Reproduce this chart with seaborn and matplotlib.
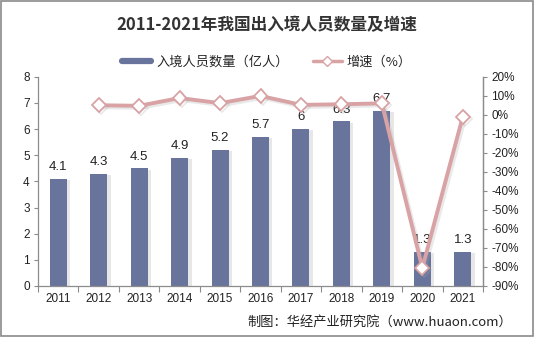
import numpy as np
import pandas as pd
import matplotlib
matplotlib.use("Agg")
import matplotlib.pyplot as plt
import matplotlib.patheffects as pe
from matplotlib.lines import Line2D
import seaborn as sns

years = ["2011", "2012", "2013", "2014", "2015", "2016", "2017", "2018", "2019", "2020", "2021"]
visitors = [4.1, 4.3, 4.5, 4.9, 5.2, 5.7, 6.0, 6.3, 6.7, 1.3, 1.3]
growth = [np.nan, 5.0, 4.7, 8.8, 6.1, 9.9, 5.2, 5.5, 6.0, -80.5, -1.0]
left_ticks = [0, 1, 2, 3, 4, 5, 6, 7, 8]
right_ticks = [20, 10, 0, -10, -20, -30, -40, -50, -60, -70, -80, -90]

sns.set_theme(style="white")
plt.rcParams['font.family'] = ['Liberation Sans', 'Noto Sans CJK SC', 'DejaVu Sans']

BAR = "#68749C"
LINE = "#D9A3A5"
SPINE = "#8C8C8C"

fig = plt.figure(figsize=(5.34, 3.37), dpi=100)
fig.patch.set_facecolor("white")
ax = fig.add_axes([38/534, 1-286/337, (483-38)/534, (286-76.7)/337])

df = pd.DataFrame({"year": years, "visitors": visitors, "growth": growth})
sns.barplot(data=df, x="year", y="visitors", color=BAR, width=0.42, ax=ax,
            saturation=1, edgecolor="none")
for p in ax.patches:
    p.set_path_effects([pe.SimplePatchShadow(offset=(2.5, -1), shadow_rgbFace="#b0b0b0", alpha=0.3),
                        pe.Normal()])
ax.bar_label(ax.containers[0], labels=[f"{v:g}" for v in visitors], padding=4,
             fontsize=9.5, color="#222222")

ax.set_ylim(0, 8)
ax.set_yticks(left_ticks)
ax.set_xlim(-0.5, len(years) - 0.5)
ax.set_xlabel("")
ax.set_ylabel("")
ax.tick_params(axis="y", labelsize=8.5, colors="#222222", length=3, width=0.8, left=True, color=SPINE, pad=3)
ax.tick_params(axis="x", labelsize=8.5, colors="#222222", length=0, pad=5)
ax.set_xticks(np.arange(-0.5, len(years), 1), minor=True)
ax.tick_params(axis="x", which="minor", bottom=True, length=4, width=0.8, color=SPINE)
for s in ["left", "bottom", "right"]:
    ax.spines[s].set_color(SPINE)
    ax.spines[s].set_linewidth(0.9)
ax.spines["top"].set_visible(False)

ax2 = ax.twinx()
xi = np.arange(len(years))
gdf = pd.DataFrame({"x": xi, "g": growth}).dropna()
sns.lineplot(data=gdf, x="x", y="g", ax=ax2, color=LINE, linewidth=2.8,
             marker="D", markersize=7, markerfacecolor="white", markeredgecolor=LINE,
             markeredgewidth=1.3,
             path_effects=[pe.SimpleLineShadow(offset=(1.5, -1.5), shadow_color="#aaaaaa", alpha=0.25),
                           pe.Normal()])
ax2.set_ylim(-90, 20)
ax2.set_yticks(right_ticks)
ax2.set_yticklabels([f"{t}%" for t in right_ticks])
ax2.set_xlabel("")
ax2.set_ylabel("")
ax2.set_xlim(-0.5, len(years) - 0.5)
ax2.tick_params(axis="y", labelsize=8.5, colors="#222222", length=3, width=0.8, right=True, color=SPINE, pad=3)
for s in ["left", "bottom", "top"]:
    ax2.spines[s].set_visible(False)
ax2.spines["right"].set_color(SPINE)
ax2.spines["right"].set_linewidth(0.9)

fig.text(0.5, 1-25/337, "2011-2021年我国出入境人员数量及增速", ha="center", va="center",
         fontsize=12, fontweight="bold", color="#333333",
         family=['Noto Sans CJK SC', 'DejaVu Sans'])

handles = [Line2D([0], [0], color=BAR, lw=4.5),
           Line2D([0], [0], color=LINE, lw=2.5, marker="D", markersize=5,
                  markerfacecolor="white", markeredgecolor=LINE)]
fig.legend(handles=handles, labels=["入境人员数量（亿人）", "增速（%）"], loc="center",
           bbox_to_anchor=(0.5, 1-62/337), ncol=2, frameon=False,
           handlelength=2.2, columnspacing=1.8, handletextpad=0.4,
           prop={"family": ['Noto Sans CJK SC', 'DejaVu Sans'], "size": 9.5})

fig.text(512/534, 1-322/337, "制图：华经产业研究院（www.huaon.com）", ha="right", va="center",
         fontsize=9.5, color="#222222", family=['Noto Sans CJK SC', 'DejaVu Sans'])

fig.patches.append(matplotlib.patches.Rectangle((0.002, 0.003), 0.996, 0.994, transform=fig.transFigure,
                                                fill=False, edgecolor="#8a8a8a", linewidth=1.2))

fig.savefig("out.png", dpi=100, facecolor="white")
